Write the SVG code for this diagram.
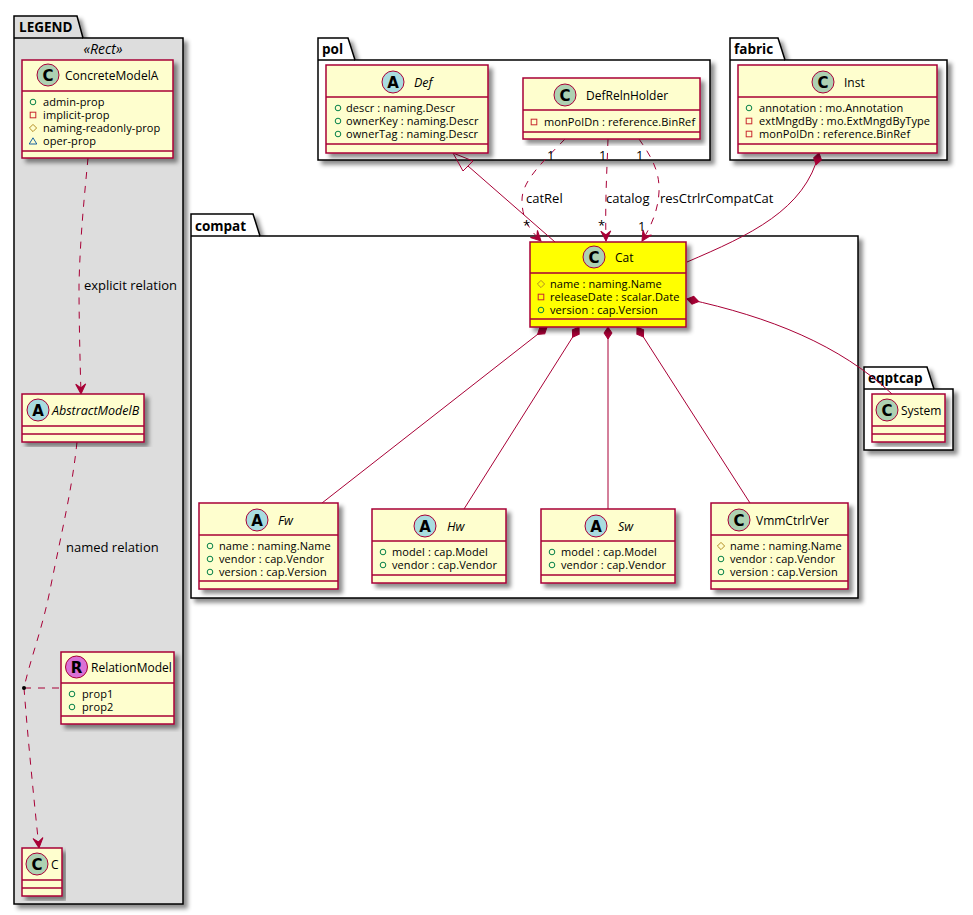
<svg xmlns="http://www.w3.org/2000/svg" xmlns:xlink="http://www.w3.org/1999/xlink" width="973" height="915" viewBox="0 0 973 915">
<style>
text{font-family:"Open Sans","Noto Sans","DejaVu Sans",sans-serif;fill:#000}
.pkg{fill:#fff;stroke:#000;stroke-width:1.5}
.pkgt{font-weight:700;font-size:13.5px}
.box{fill:#FEFECE;stroke:#A80036;stroke-width:1.5}
.cat{fill:#FFFF00}
.sep{stroke:#A80036;stroke-width:1.5;fill:none}
.t{font-size:12px}
.i{font-style:italic;font-size:12.5px}
.m{font-size:11px;letter-spacing:.1px}
.l{font-size:13px}
.g{font-size:15px;font-weight:700;font-family:"DejaVu Sans",sans-serif;text-anchor:middle}
.ci{stroke:#A80036;stroke-width:1}
.cc{fill:#ADD1B2}.ca{fill:#A9DCDF}.cr{fill:#DA70D6}
.ln{fill:none;stroke:#A80036;stroke-width:1}
.d{stroke-dasharray:7,7}
</style>
<defs>
<filter id="sh" x="-10%" y="-10%" width="120%" height="120%"><feDropShadow dx="4" dy="4" stdDeviation="2" flood-color="#000" flood-opacity=".45"/></filter>
<marker id="arr" markerUnits="userSpaceOnUse" markerWidth="24" markerHeight="24" refX="12" refY="12" orient="auto" overflow="visible"><path d="M2,7 L12,12 L2,17 L6,12 Z" fill="#A80036" stroke="#A80036"/></marker>
<marker id="dia" markerUnits="userSpaceOnUse" markerWidth="28" markerHeight="28" refX="14" refY="14" orient="auto" overflow="visible"><path d="M14,14 L20,10 L26,14 L20,18 Z" fill="#A80036" stroke="#A80036"/></marker>
<circle id="pub" r="2.8" fill="none" stroke="#038048"/>
<rect id="pri" x="-2.8" y="-2.8" width="5.6" height="5.6" fill="none" stroke="#C82930"/>
<path id="pro" d="M0,-3.6 L3.6,0 L0,3.6 L-3.6,0 Z" fill="none" stroke="#B38D22"/>
<path id="pac" d="M0,-3.2 L3.8,3 L-3.8,3 Z" fill="none" stroke="#1963A0"/>
</defs>

<g id="pkg-legend"><path class="pkg" style="fill:#DDDDDD" filter="url(#sh)" d="M14,16 H77 L83,38 H183 V904 H14 Z"/><path class="sep" style="stroke:#000" d="M14,38 H83"/><text class="pkgt" x="19" y="32">LEGEND</text><text font-style="italic" font-size="14" x="103" y="54" text-anchor="middle">«Rect»</text></g>
<g id="pkg-pol"><path class="pkg" filter="url(#sh)" d="M318,38 H348 L355,60 H710 V160 H318 Z"/><path class="sep" style="stroke:#000" d="M318,60 H355"/><text class="pkgt" x="322" y="54">pol</text></g>
<g id="pkg-fabric"><path class="pkg" filter="url(#sh)" d="M730,38 H778 L785,60 H947 V160 H730 Z"/><path class="sep" style="stroke:#000" d="M730,60 H785"/><text class="pkgt" x="734" y="54">fabric</text></g>
<g id="pkg-compat"><path class="pkg" filter="url(#sh)" d="M191,214 H253 L260,236 H858 V598 H191 Z"/><path class="sep" style="stroke:#000" d="M191,236 H260"/><text class="pkgt" x="195" y="231">compat</text></g>
<g id="pkg-eqptcap"><path class="pkg" filter="url(#sh)" d="M864,367 H927 L934,389 H953 V450 H864 Z"/><path class="sep" style="stroke:#000" d="M864,389 H934"/><text class="pkgt" x="868" y="383">eqptcap</text></g>

<g id="connectors">
<path class="ln d" marker-end="url(#arr)" d="M88,158 C84,200 80,240 79,285 C79,320 80,360 81,394"/>
<path class="ln d" d="M77,442 C72,490 62,530 50,590 C42,630 30,660 24,688"/>
<path class="ln d" marker-end="url(#arr)" d="M24,688 C28,740 34,800 39,848"/>
<path class="ln d" d="M24,688 H61"/>
<circle cx="24" cy="688" r="2" fill="#000"/>
<path class="ln" d="M468,166 L555,242"/>
<path d="M453,153 L463,171 L473,161 Z" fill="none" stroke="#A80036"/>
<path class="ln d" marker-end="url(#arr)" d="M565,139 C545,160 522,180 522,200 C522,220 530,230 541,241"/>
<path class="ln d" marker-end="url(#arr)" d="M608,139 C607,170 605,200 606,241"/>
<path class="ln d" marker-end="url(#arr)" d="M639,139 C650,155 660,170 659,192 C658,212 650,228 642,241"/>
<path class="ln" marker-start="url(#dia)" d="M819,153 C805,210 750,235 687,262"/>
<path class="ln" marker-start="url(#dia)" d="M687,299 C770,317 840,345 892,394"/>
<path class="ln" marker-start="url(#dia)" d="M547,327 L322,503"/>
<path class="ln" marker-start="url(#dia)" d="M579,327 L464,509"/>
<path class="ln" marker-start="url(#dia)" d="M608,327 L608,509"/>
<path class="ln" marker-start="url(#dia)" d="M637,327 L750,503"/>
<g class="l">
<text class="l" x="84" y="290">explicit relation</text>
<text class="l" x="66" y="552">named relation</text>
<text class="l" x="526" y="203">catRel</text>
<text class="l" x="606" y="203">catalog</text>
<text class="l" x="660" y="203">resCtrlrCompatCat</text>
<text class="l" x="547" y="160">1</text>
<text class="l" x="599" y="160">1</text>
<text class="l" x="636" y="160">1</text>
<text class="l" x="523" y="230">*</text>
<text class="l" x="598" y="230">*</text>
<text class="l" x="638" y="231">1</text>
</g>
</g>

<g id="ConcreteModelA"><rect class="box" filter="url(#sh)" x="22" y="60" width="151" height="98"/><path class="sep" d="M22,91 H173 M22,151 H173"/><circle class="ci cc" cx="48" cy="75" r="11"/><text class="g" x="48" y="80.500">C</text><text class="t" x="65" y="80">ConcreteModelA</text>
<use href="#pub" x="33" y="102"/><text class="m" x="43" y="106">admin-prop</text><use href="#pri" x="33" y="115"/><text class="m" x="43" y="119">implicit-prop</text><use href="#pro" x="33" y="128"/><text class="m" x="43" y="132">naming-readonly-prop</text><use href="#pac" x="33" y="141"/><text class="m" x="43" y="145">oper-prop</text></g>

<g id="AbstractModelB"><rect class="box" filter="url(#sh)" x="22" y="394" width="122" height="48"/><path class="sep" d="M22,426 H144 M22,434 H144"/><circle class="ci ca" cx="38" cy="410" r="11"/><text class="g" x="38" y="415.500">A</text><text class="t i" x="52" y="415">AbstractModelB</text></g>

<g id="RelationModel"><rect class="box" filter="url(#sh)" x="61" y="652" width="113" height="72"/><path class="sep" d="M61,683 H174 M61,716 H174"/><circle class="ci cr" cx="76.500" cy="667" r="11"/><text class="g" x="76.500" y="672.500">R</text><text class="t" x="91" y="672">RelationModel</text>
<use href="#pub" x="72" y="694"/><text class="m" x="82" y="698">prop1</text><use href="#pub" x="72" y="707"/><text class="m" x="82" y="711">prop2</text></g>

<g id="C"><rect class="box" filter="url(#sh)" x="22" y="848" width="40" height="48"/><path class="sep" d="M22,880 H62 M22,888 H62"/><circle class="ci cc" cx="37" cy="864" r="11"/><text class="g" x="37" y="869.500">C</text><text class="t" x="51" y="869">C</text></g>

<g id="Def"><rect class="box" filter="url(#sh)" x="326" y="65" width="162" height="88"/><path class="sep" d="M326,97 H488 M326,144 H488"/><circle class="ci ca" cx="393" cy="82" r="11"/><text class="g" x="393" y="87.500">A</text><text class="t i" x="414" y="87">Def</text>
<use href="#pub" x="338" y="108"/><text class="m" x="346" y="112">descr : naming.Descr</text><use href="#pub" x="338" y="121"/><text class="m" x="346" y="125">ownerKey : naming.Descr</text><use href="#pub" x="338" y="134"/><text class="m" x="346" y="138">ownerTag : naming.Descr</text></g>

<g id="DefRelnHolder"><rect class="box" filter="url(#sh)" x="523" y="78" width="177" height="61"/><path class="sep" d="M523,110 H700 M523,132 H700"/><circle class="ci cc" cx="565" cy="95" r="11"/><text class="g" x="565" y="100.500">C</text><text class="t" x="586" y="100">DefRelnHolder</text>
<use href="#pri" x="534" y="122"/><text class="m" x="544" y="126">monPolDn : reference.BinRef</text></g>

<g id="Inst"><rect class="box" filter="url(#sh)" x="738" y="65" width="199" height="88"/><path class="sep" d="M738,97 H937 M738,144 H937"/><circle class="ci cc" cx="823" cy="82" r="11"/><text class="g" x="823" y="87.500">C</text><text class="t" x="844" y="87">Inst</text>
<use href="#pub" x="749" y="108"/><text class="m" x="759" y="112">annotation : mo.Annotation</text><use href="#pri" x="749" y="121"/><text class="m" x="759" y="125">extMngdBy : mo.ExtMngdByType</text><use href="#pri" x="749" y="134"/><text class="m" x="759" y="138">monPolDn : reference.BinRef</text></g>

<g id="Cat"><rect class="box cat" filter="url(#sh)" x="530" y="242" width="156" height="85"/><path class="sep" d="M530,273 H686 M530,319 H686"/><circle class="ci cc" cx="594" cy="257" r="11"/><text class="g" x="594" y="262.500">C</text><text class="t" x="615" y="262">Cat</text>
<use href="#pro" x="541" y="284"/><text class="m" x="550" y="288">name : naming.Name</text><use href="#pri" x="541" y="297"/><text class="m" x="550" y="301">releaseDate : scalar.Date</text><use href="#pub" x="541" y="310"/><text class="m" x="550" y="314">version : cap.Version</text></g>

<g id="Fw"><rect class="box" filter="url(#sh)" x="199" y="503" width="139" height="86"/><path class="sep" d="M199,535 H338 M199,581 H338"/><circle class="ci ca" cx="257" cy="520" r="11"/><text class="g" x="257" y="525.500">A</text><text class="t i" x="278" y="525">Fw</text>
<use href="#pub" x="210" y="546"/><text class="m" x="219" y="550">name : naming.Name</text><use href="#pub" x="210" y="559"/><text class="m" x="219" y="563">vendor : cap.Vendor</text><use href="#pub" x="210" y="572"/><text class="m" x="219" y="576">version : cap.Version</text></g>

<g id="Hw"><rect class="box" filter="url(#sh)" x="372" y="509" width="134" height="74"/><path class="sep" d="M372,541 H506 M372,575 H506"/><circle class="ci ca" cx="425" cy="526" r="11"/><text class="g" x="425" y="531.500">A</text><text class="t i" x="447" y="531">Hw</text>
<use href="#pub" x="383" y="552"/><text class="m" x="392" y="556">model : cap.Model</text><use href="#pub" x="383" y="565"/><text class="m" x="392" y="569">vendor : cap.Vendor</text></g>

<g id="Sw"><rect class="box" filter="url(#sh)" x="541" y="509" width="134" height="74"/><path class="sep" d="M541,541 H675 M541,575 H675"/><circle class="ci ca" cx="596" cy="526" r="11"/><text class="g" x="596" y="531.500">A</text><text class="t i" x="618" y="531">Sw</text>
<use href="#pub" x="552" y="552"/><text class="m" x="561" y="556">model : cap.Model</text><use href="#pub" x="552" y="565"/><text class="m" x="561" y="569">vendor : cap.Vendor</text></g>

<g id="VmmCtrlrVer"><rect class="box" filter="url(#sh)" x="711" y="503" width="137" height="86"/><path class="sep" d="M711,535 H848 M711,581 H848"/><circle class="ci cc" cx="739" cy="520" r="11"/><text class="g" x="739" y="525.500">C</text><text class="t" x="756" y="525">VmmCtrlrVer</text>
<use href="#pro" x="721" y="546"/><text class="m" x="730" y="550">name : naming.Name</text><use href="#pub" x="721" y="559"/><text class="m" x="730" y="563">vendor : cap.Vendor</text><use href="#pub" x="721" y="572"/><text class="m" x="730" y="576">version : cap.Version</text></g>

<g id="System"><rect class="box" filter="url(#sh)" x="872" y="394" width="73" height="48"/><path class="sep" d="M872,426 H945 M872,434 H945"/><circle class="ci cc" cx="887" cy="410" r="11"/><text class="g" x="887" y="415.500">C</text><text class="t" x="901" y="415">System</text></g>
</svg>
